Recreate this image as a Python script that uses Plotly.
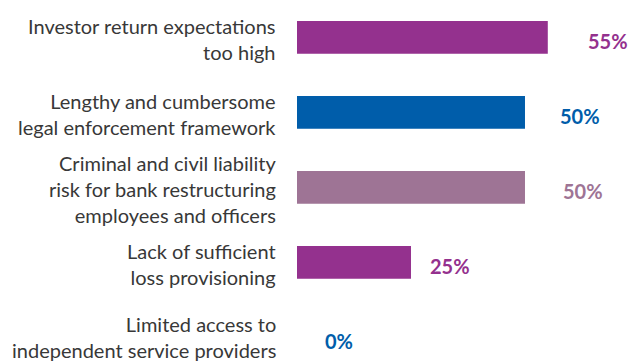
import plotly.graph_objects as go

# Survey responses: obstacles to NPL resolution
categories = [
    "Investor return expectations<br>too high",
    "Lengthy and cumbersome<br>legal enforcement framework",
    "Criminal and civil liability<br>risk for bank restructuring<br>employees and officers",
    "Lack of sufficient<br>loss provisioning",
    "Limited access to<br>independent service providers",
]
values = [55, 50, 50, 25, 0]
value_labels = ["55%", "50%", "50%", "25%", "0%"]

PURPLE = "#94318e"
BLUE = "#005daa"
MAUVE = "#9e7495"
colors = [PURPLE, BLUE, MAUVE, PURPLE, BLUE]
label_shift = [38, 33, 36, 17, 26]
text_shift = [-2, -2, -2, -2, 0]

idx = list(range(len(categories)))

fig = go.Figure(
    go.Bar(
        x=values,
        y=idx,
        orientation="h",
        marker=dict(color=colors, line=dict(width=0)),
        width=0.436,
        hoverinfo="skip",
    )
)

annotations = []
for i, (cat, v, lab, c, sh, ts) in enumerate(
    zip(categories, values, value_labels, colors, label_shift, text_shift)
):
    annotations.append(
        dict(
            x=0, y=i, xref="x", yref="y",
            text=cat, showarrow=False,
            xanchor="right", yanchor="middle", align="right",
            xshift=-19, yshift=ts,
            font=dict(family="Lato", size=20, color="#383838"),
        )
    )
    annotations.append(
        dict(
            x=v, y=i, xref="x", yref="y",
            text=f"<b>{lab}</b>", showarrow=False,
            xanchor="left", yanchor="middle",
            xshift=sh, yshift=-4,
            font=dict(family="Lato", size=20, color=c),
        )
    )

fig.update_layout(
    width=630,
    height=363,
    margin=dict(l=297, r=0, t=0, b=0),
    paper_bgcolor="white",
    plot_bgcolor="white",
    showlegend=False,
    annotations=annotations,
    xaxis=dict(range=[0, 73.03], visible=False, fixedrange=True),
    yaxis=dict(range=[4.343, -0.497], visible=False, fixedrange=True),
)

fig.write_html("out.html")
